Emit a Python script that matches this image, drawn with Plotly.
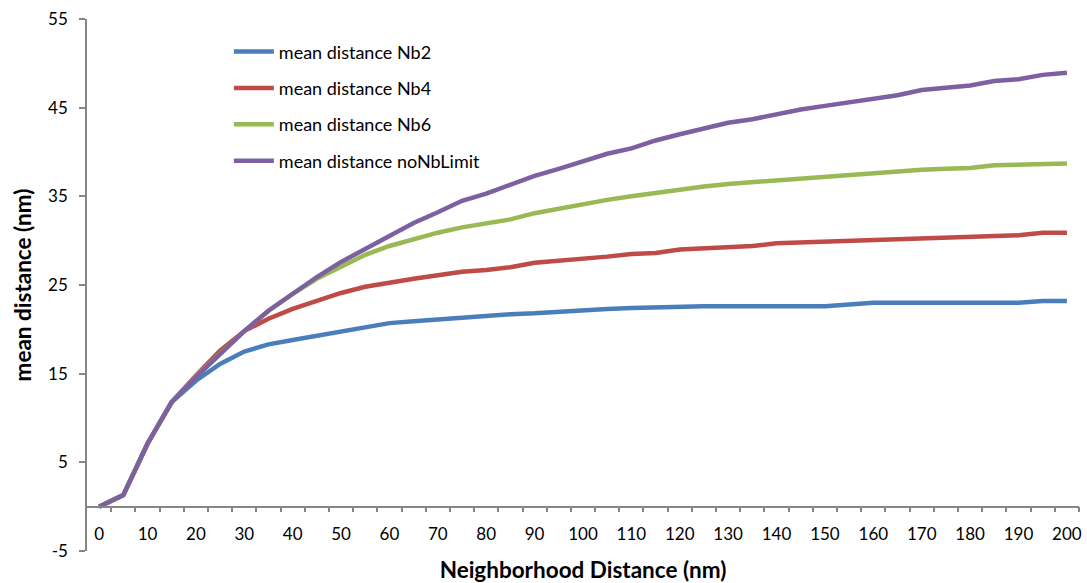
import plotly.graph_objects as go

x_vals = list(range(0, 205, 5))

nb2 = [0, 1.3, 7.1, 11.8, 14.2, 16.1, 17.5, 18.3, 18.8, 19.3, 19.8, 20.3, 20.7, 20.9, 21.1,
       21.4, 21.6, 21.7, 21.8, 22.0, 22.2, 22.3, 22.4, 22.5, 22.6, 22.6, 22.6, 22.6, 22.6,
       22.6, 22.6, 22.8, 23.0, 23.0, 23.0, 23.0, 23.0, 23.0, 23.0, 23.2, 23.2]
nb4 = [0, 1.3, 7.1, 11.8, 14.8, 17.6, 19.8, 21.2, 22.3, 23.2, 24.1, 24.8, 25.3, 25.7, 26.1,
       26.5, 26.7, 27.0, 27.5, 27.7, 28.0, 28.2, 28.5, 28.6, 29.0, 29.1, 29.3, 29.4, 29.7,
       29.8, 29.9, 29.9, 30.0, 30.2, 30.3, 30.4, 30.4, 30.6, 30.6, 30.9, 30.9]
nb6 = [0, 1.3, 7.1, 11.8, 14.7, 17.3, 19.8, 22.1, 24.0, 25.7, 27.1, 28.4, 29.4, 30.2, 30.9,
       31.5, 31.9, 32.4, 33.1, 33.6, 34.2, 34.6, 35.0, 35.4, 35.8, 36.1, 36.4, 36.6, 36.9,
       37.1, 37.3, 37.4, 37.6, 37.8, 38.0, 38.1, 38.2, 38.5, 38.6, 38.7, 38.7]
nolimit = [0, 1.3, 7.1, 11.8, 14.6, 17.2, 19.8, 22.1, 24.0, 25.9, 27.6, 29.1, 30.6, 32.0, 33.2,
           34.5, 35.3, 36.3, 37.3, 38.1, 38.9, 39.8, 40.4, 41.3, 42.0, 42.7, 43.3, 43.7, 44.3,
           44.8, 45.2, 45.6, 46.0, 46.4, 47.0, 47.2, 47.5, 48.0, 48.2, 48.7, 48.95]

series_names = ["mean distance Nb2", "mean distance Nb4", "mean distance Nb6", "mean distance noNbLimit"]
series_values = [nb2, nb4, nb6, nolimit]
series_colors = ["#4A7EBB", "#BE4B48", "#98B954", "#7D60A0"]

x_tick_labels = list(range(0, 201, 10))
x_minor_ticks = [v + 2.5 for v in range(0, 201, 5)]
y_ticks = list(range(-5, 56, 10))
y_tick_text = ["-5", "5", "15", "25", "35", "45", "55"]

FONT = "Lato, 'Open Sans', sans-serif"
AXIS_GRAY = "#868686"

fig = go.Figure()
for i, (name, vals, col) in enumerate(zip(series_names, series_values, series_colors)):
    fig.add_trace(go.Scatter(x=x_vals, y=vals, mode="lines", name=name,
                             legendgroup=f"g{i}",
                             line=dict(color=col, width=4.5)))

fig.update_layout(
    width=1087, height=583,
    margin=dict(l=87, r=8, t=19, b=32, autoexpand=False),
    paper_bgcolor="white", plot_bgcolor="white",
    font=dict(family=FONT, size=16, color="#000000"),
    showlegend=True,
    legend=dict(x=0.143, y=0.973, xanchor="left", yanchor="top",
                bgcolor="rgba(0,0,0,0)", font=dict(size=18, family=FONT),
                traceorder="grouped", tracegroupgap=10, itemwidth=40),
    xaxis=dict(
        range=[-2.5, 202.5], anchor="free", position=5 / 60,
        showline=True, linecolor=AXIS_GRAY, linewidth=1.5,
        showgrid=False, zeroline=False,
        tickmode="array", tickvals=x_tick_labels, ticktext=[str(v) for v in x_tick_labels],
        ticks="", ticklabelstandoff=12, ticklabeloverflow="allow",
        tickfont=dict(size=17, family=FONT),
        minor=dict(tickmode="array", tickvals=x_minor_ticks, ticks="outside",
                   ticklen=5, tickcolor=AXIS_GRAY, tickwidth=1.5, showgrid=False),
        title=dict(text="<b>Neighborhood Distance (nm)</b>", font=dict(size=22.5, family=FONT),
                   standoff=22),
        automargin=False,
    ),
    yaxis=dict(
        range=[-5, 55], showline=True, linecolor=AXIS_GRAY, linewidth=1.5,
        showgrid=False, zeroline=False,
        tickmode="array", tickvals=y_ticks, ticktext=y_tick_text,
        ticks="outside", ticklen=6, tickcolor=AXIS_GRAY, tickwidth=1.5,
        ticklabelstandoff=8, ticklabeloverflow="allow",
        tickfont=dict(size=17, family=FONT),
        title=dict(text="<b>mean distance (nm)</b>", font=dict(size=22.5, family=FONT),
                   standoff=10),
        automargin=False,
    ),
)

fig.write_html("out.html", config={"displayModeBar": False},
               post_script="document.body.style.margin='0';")
